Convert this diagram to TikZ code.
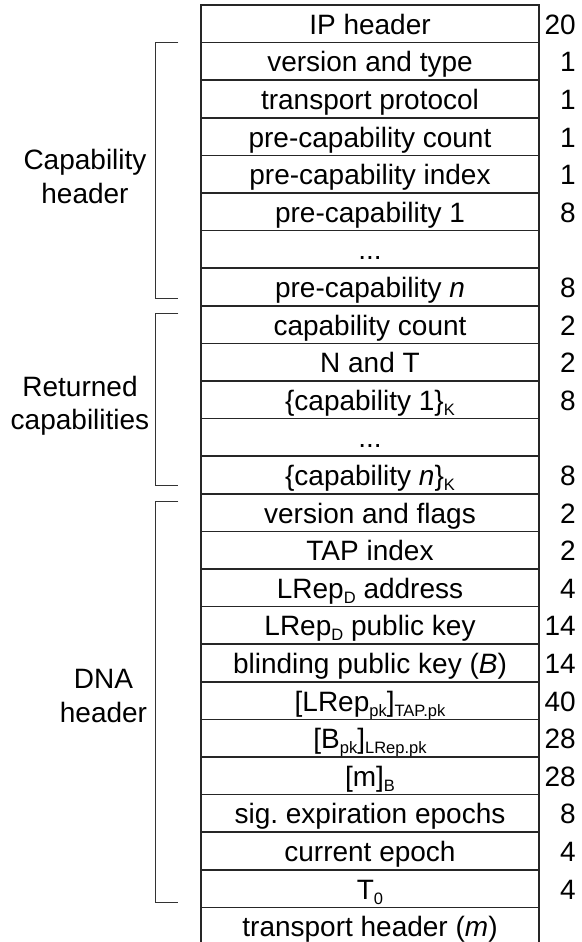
\documentclass[tikz,border=0pt]{standalone}
\usepackage{fontspec}
\setmainfont{Liberation Sans}
% lowered, smaller text for subscripts in field names
\newcommand{\sbs}[1]{\raisebox{-5pt}{\fontsize{16.5}{16.5}\selectfont #1}}
\begin{document}
\frenchspacing
\begin{tikzpicture}[x=1pt,y=-1pt,
  fieldtext/.style={inner sep=0pt,anchor=base,font=\fontsize{28}{34}\selectfont},
  sizetext/.style={inner sep=0pt,anchor=base east,font=\fontsize{28}{34}\selectfont},
  grouplabel/.style={inner sep=0pt,anchor=base,font=\fontsize{28}{34}\selectfont},
  frame/.style={line width=1.8pt,draw=black!85},
  rowline/.style={line width=1.5pt,draw=black!85},
  bracket/.style={line width=1.3pt,draw=black!80}]
\useasboundingbox (0,0) rectangle (581,942);

% packet layout: outer frame open at the bottom
\draw[frame] (200.7,942) -- (200.7,5) -- (539,5) -- (539,942);

% field rows: name in the frame, size in bytes to the right
\foreach \txt/\num [count=\i from 0] in {
  {IP header}/20,
  {version and type}/1,
  {transport protocol}/1,
  {pre-capability count}/1,
  {pre-capability index}/1,
  {pre-capability 1}/8,
  {...}/{},
  {pre-capability \textit{n}}/8,
  {capability count}/2,
  {N and T}/2,
  {\{capability 1\}\sbs{K}}/8,
  {...}/{},
  {\{capability \textit{n}\}\sbs{K}}/8,
  {version and flags}/2,
  {TAP index}/2,
  {LRep\sbs{D} address}/4,
  {LRep\sbs{D} public key}/14,
  {blinding public key (\textit{B})}/14,
  {[LRep\sbs{pk}]\sbs{TAP.pk}}/40,
  {[B\sbs{pk}]\sbs{LRep.pk}}/28,
  {[m]\sbs{B}}/28,
  {sig. expiration epochs}/8,
  {current epoch}/4,
  {T\sbs{0}}/4,
  {transport header (\textit{m})}/{}}
{
  \pgfmathsetmacro{\ytop}{5+37.6*\i}
  \pgfmathsetmacro{\ybase}{\ytop+18.8+10.5}
  \node[fieldtext] (row\i) at (370,\ybase) {\txt};
  \node[sizetext] (num\i) at (576,\ybase) {\num};
  \ifnum\i>0
    \draw[rowline] (200.7,\ytop) -- (539,\ytop);
  \fi
}

% group brackets
\draw[bracket] (178.3,42.6) -- (155.7,42.6) -- (155.7,298.3) -- (178.3,298.3);
\draw[bracket] (178.3,313.7) -- (155.7,313.7) -- (155.7,485.7) -- (178.3,485.7);
\draw[bracket] (178.3,501.7) -- (155.7,501.7) -- (155.7,902.7) -- (178.3,902.7);

% group names
\node[grouplabel] (capA) at (85,169.3) {Capability};
\node[grouplabel] (capB) at (85,203.3) {header};
\node[grouplabel] (retA) at (80,396) {Returned};
\node[grouplabel] (retB) at (80,429) {capabilities};
\node[grouplabel] (dnaA) at (103.5,688) {DNA};
\node[grouplabel] (dnaB) at (103.5,722) {header};
\end{tikzpicture}
\end{document}
